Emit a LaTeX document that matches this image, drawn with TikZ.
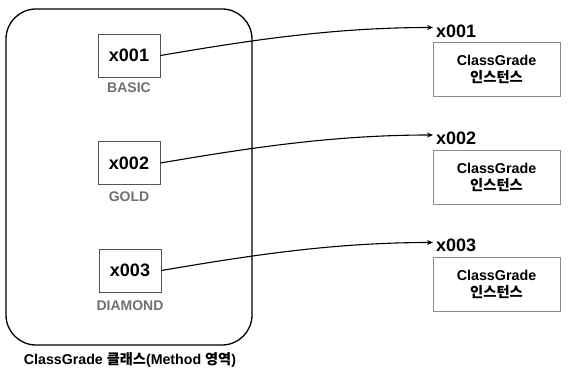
\documentclass[tikz,border=0pt]{standalone}
\usepackage{fontspec}
\setmainfont{Liberation Sans}
\newfontfamily\kr{Noto Sans CJK KR}
\usetikzlibrary{arrows.meta,calc}
\definecolor{boxgray}{HTML}{555555}
\definecolor{instgray}{HTML}{8A8A8A}
\definecolor{labgray}{HTML}{707070}
\begin{document}
\begin{tikzpicture}[x=1pt,y=-1pt,
  refbox/.style={draw=boxgray,line width=0.9pt,minimum width=62pt,minimum height=43pt,inner sep=0pt,font=\fontsize{18}{20}\selectfont\bfseries},
  instbox/.style={draw=instgray,line width=0.8pt,minimum width=127pt,minimum height=54pt,inner sep=0pt,align=center,font=\fontsize{14.3}{16}\selectfont\bfseries},
  gradelab/.style={text=labgray,font=\fontsize{14}{16}\selectfont\bfseries,inner sep=0pt},
  addrlab/.style={anchor=west,inner sep=0pt,font=\fontsize{18}{20}\selectfont\bfseries},
  ptr/.style={line width=1.1pt,-{Stealth[length=6pt,width=5pt]}}]
\useasboundingbox (0,0) rectangle (573,371);
% method area
\draw[line width=1.3pt,rounded corners=30pt] (6,9) rectangle (252,345);
\node[font=\fontsize{14.2}{16}\selectfont\bfseries,inner sep=0pt] (cap) at (130,360) {ClassGrade {\kr 클래스}(Method {\kr 영역})};
% reference boxes
\node[refbox] (b1) at (129,55.5) {x001};
\node[refbox] (b2) at (129,163) {x002};
\node[refbox] (b3) at (130,270.5) {x003};
\node[gradelab] (g1) at (129,88) {BASIC};
\node[gradelab] (g2) at (129,197) {GOLD};
\node[gradelab] (g3) at (130,306) {DIAMOND};
% instances
\node[instbox] (i1) at (496.5,69) {ClassGrade\\[1pt]{\kr 인스턴스}};
\node[instbox] (i2) at (496.5,177) {ClassGrade\\[1pt]{\kr 인스턴스}};
\node[instbox] (i3) at (496.5,284) {ClassGrade\\[1pt]{\kr 인스턴스}};
\node[addrlab] (a1) at (436,31) {x001};
\node[addrlab] (a2) at (436,138) {x002};
\node[addrlab] (a3) at (436,245) {x003};
\coordinate (e1) at (433,27.5);
\coordinate (e2) at (433,135);
\coordinate (e3) at (433,242.5);
% pointers
\draw[ptr] (b1.east) .. controls ($(b1.east)+(88,-15)$) and ($(e1)+(-100,0)$) .. (e1);
\draw[ptr] (b2.east) .. controls ($(b2.east)+(88,-15)$) and ($(e2)+(-100,0)$) .. (e2);
\draw[ptr] (b3.east) .. controls ($(b3.east)+(88,-15)$) and ($(e3)+(-100,0)$) .. (e3);
\end{tikzpicture}
\end{document}
